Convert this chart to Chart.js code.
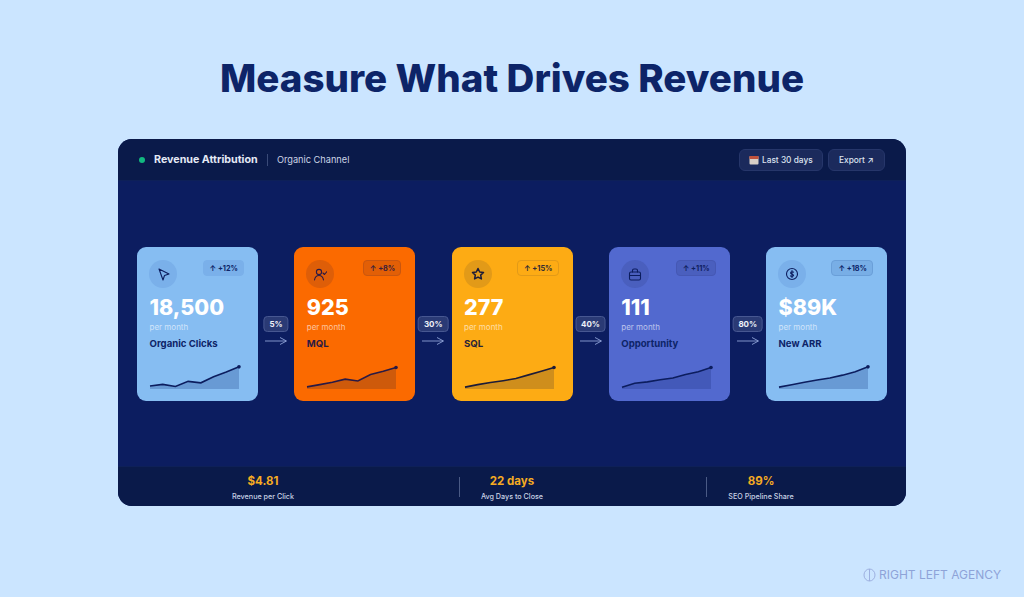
<!DOCTYPE html>
<html>
<head>
<meta charset="utf-8">
<title>Measure What Drives Revenue</title>
<script src="https://cdn.jsdelivr.net/npm/chart.js@4"></script>
<style>
  * { box-sizing: border-box; }
  html, body { margin: 0; width: 1024px; height: 597px; overflow: hidden; background: #cbe5ff; font-family: Inter, "Noto Sans", sans-serif; }
  h1 { position: absolute; left: 0; width: 1024px; top: 53px; margin: 0; text-align: center; font-size: 38.5px; line-height: 50px; font-weight: 800; letter-spacing: 0; color: #0d2468; }
  #panel { position: absolute; left: 118px; top: 139px; width: 788px; height: 367px; border-radius: 14px; background: #0c1d60; overflow: hidden; }
  #head { position: absolute; left: 0; top: 0; width: 100%; height: 42px; background: #0a1a4a; border-bottom: 1px solid #0e2058; }
  #dot { position: absolute; left: 21px; top: 18px; width: 6px; height: 6px; border-radius: 50%; background: #12b981; }
  #headTitle { position: absolute; left: 36px; top: 13px; font-size: 10.7px; line-height: 16px; font-weight: 700; color: #e4e9f5; }
  #headSep { position: absolute; left: 149px; top: 15px; width: 1px; height: 12px; background: #3a4a78; }
  #headSub { position: absolute; left: 159px; top: 13px; font-size: 9.2px; line-height: 16px; color: #ccd4e6; }
  .btn { position: absolute; top: 10px; height: 22px; border-radius: 6px; background: #1b2a5c; border: 1px solid #26366a; color: #dde3f0; font-size: 8.3px; font-weight: 500; line-height: 20px; white-space: nowrap; }
  #btnRange { left: 621px; width: 84px; padding-left: 22px; }
  #btnRange svg { position: absolute; left: 9px; top: 5px; }
  #btnExport { left: 710px; width: 57px; padding-left: 10px; }
  .card { position: absolute; top: 108px; width: 121px; height: 154px; border-radius: 9px; }
  .icon { position: absolute; left: 12px; top: 12.5px; width: 28px; height: 28px; border-radius: 50%; }
  .icon svg { position: absolute; left: 7px; top: 7px; }
  .delta { position: absolute; top: 12.5px; right: 14px; height: 16px; padding: 0 5px 0 6px; border-radius: 4px; font-size: 7.3px; line-height: 15px; font-weight: 700; white-space: nowrap; border: 1px solid transparent; }
  .value { position: absolute; left: 12.5px; top: 46px; font-size: 21.5px; line-height: 28px; font-weight: 800; color: #fff; white-space: nowrap; }
  .per { position: absolute; left: 12.5px; top: 74px; font-size: 8px; line-height: 12px; color: rgba(255,255,255,0.62); }
  .name { position: absolute; left: 12.5px; top: 90px; font-size: 9.6px; line-height: 14px; font-weight: 700; white-space: nowrap; }
  .spark { position: absolute; left: 9px; top: 114px; }
  .rate { position: absolute; top: 177px; height: 16px; transform: translateX(-50%); padding: 0 5px; border-radius: 4px; background: #2a3a75; border: 1px solid #475791; color: #eef1f8; font-size: 8px; font-weight: 700; line-height: 14px; white-space: nowrap; }
  .arrow { position: absolute; top: 197px; }
  .arrow svg { display: block; }
  #foot { position: absolute; left: 0; top: 327px; width: 100%; height: 40px; background: #0a1a4a; border-top: 1px solid #0e2058; }
  .kpi { position: absolute; top: 6px; width: 160px; transform: translateX(-50%); text-align: center; }
  .kpi b { display: block; font-size: 11.5px; line-height: 16px; font-weight: 700; color: #f5ab22; }
  .kpi span { display: block; margin-top: 2px; font-size: 7.2px; line-height: 12px; font-weight: 500; color: #c9d2e4; }
  .kpiSep { position: absolute; top: 10px; width: 1px; height: 20px; background: #4a5a85; }
  #brand { position: absolute; left: 879px; top: 567px; font-size: 12px; line-height: 16px; letter-spacing: 0; color: #8ea3d8; white-space: nowrap; }
  #brandMark { position: absolute; left: 863px; top: 568px; }
</style>
</head>
<body>
<h1>Measure What Drives Revenue</h1>
<div id="panel">
  <div id="head">
    <div id="dot"></div>
    <div id="headTitle">Revenue Attribution</div>
    <div id="headSep"></div>
    <div id="headSub">Organic Channel</div>
    <div class="btn" id="btnRange"><svg width="10" height="10" viewBox="0 0 10 10"><rect x="0.5" y="1" width="9" height="8.5" rx="1" fill="#d8cfc6"/><rect x="0.5" y="1" width="9" height="3" fill="#c0523c"/></svg>Last 30 days</div>
    <div class="btn" id="btnExport">Export ↗</div>
  </div>
  <div id="cards"></div>
  <div id="foot"></div>
</div>
<svg id="brandMark" width="13" height="14" viewBox="0 0 13 14" fill="none" stroke="#9db0e0" stroke-width="1"><ellipse cx="6.5" cy="7" rx="5.5" ry="6"/><path d="M6.5 1v12"/></svg>
<div id="brand">RIGHT LEFT AGENCY</div>

<script>
const stages = ["Organic Clicks", "MQL", "SQL", "Opportunity", "New ARR"];
const totals = ["18,500", "925", "277", "111", "$89K"];
const changes = ["+12%", "+8%", "+15%", "+11%", "+18%"];
const rates = ["5%", "30%", "40%", "80%"];
const periodLabel = "per month";

// sparkline readings, pixels-ish above the baseline of each little chart
const weeks = ["1", "2", "3", "4", "5", "6", "7", "8"];
const clicksTrend = [3.3, 5, 2.7, 8.3, 6.7, 13.3, 18.3, 24];
const mqlTrend = [2.3, 4.7, 7.3, 10.7, 8.7, 15.7, 19.3, 23.3];
const sqlTrend = [2, 4.7, 7, 9, 11.3, 15.3, 19.3, 23.3];
const oppTrend = [2, 6.3, 7.7, 10, 12, 15.7, 18.7, 23.3];
const arrTrend = [2, 4.7, 7.3, 9.7, 12, 15, 18.7, 24];
const trends = [clicksTrend, mqlTrend, sqlTrend, oppTrend, arrTrend];

const kpiValues = ["$4.81", "22 days", "89%"];
const kpiLabels = ["Revenue per Click", "Avg Days to Close", "SEO Pipeline Share"];

// looks for each card
const skins = [
  { bg: "#86bdf2", circle: "#7ab0ea", badge: "#7ab0ea", border: "#7ab0ea", text: "#0d2468", label: "#0d2468", line: "#0c1d5e", fill: "rgba(40,80,150,0.32)" },
  { bg: "#fb6a00", circle: "#de5e08", badge: "#e25f06", border: "#c9560f", text: "#3a1d3a", label: "#2a1a45", line: "#2a1a45", fill: "rgba(90,50,40,0.28)" },
  { bg: "#fdab14", circle: "#e29a18", badge: "#fdab14", border: "#e29a18", text: "#2f2a35", label: "#2a2438", line: "#1c1b38", fill: "rgba(90,70,50,0.28)" },
  { bg: "#5269cf", circle: "#4a5fbe", badge: "#4a5fbe", border: "#4558b4", text: "#10205e", label: "#0d2468", line: "#0c1d5e", fill: "rgba(30,50,130,0.28)" },
  { bg: "#86bdf2", circle: "#7ab0ea", badge: "#78aee6", border: "#6a9fd9", text: "#0d2468", label: "#0d2468", line: "#0c1d5e", fill: "rgba(40,80,150,0.32)" }
];
const icons = [
  '<path d="M3 2l10 5-4.5 1.5L7 13z"/>',
  '<circle cx="6" cy="5" r="2.6"/><path d="M1.5 13c.5-3 2.3-4.5 4.5-4.5s4 1.500 4.500 4.500M10 6l1.500 1.500L14 4.500"/>',
  '<path d="M7 1.500l1.700 3.500 3.800.5-2.800 2.600.7 3.800L7 10.100l-3.400 1.800.7-3.800L1.500 5.500l3.800-.5z" stroke-width="1.500"/>',
  '<rect x="1.500" y="5" width="11" height="8" rx="1.500"/><path d="M4.500 5V3.500a1.500 1.500 0 0 1 1.500-1.500h2a1.500 1.500 0 0 1 1.500 1.500V5M1.500 8.500h11"/>',
  '<circle cx="7" cy="7" r="5.500"/><path d="M7 3.500v7M8.600 5.200C8 4.500 5.600 4.600 5.600 6s3 1 3 2.300-2.500 1.300-3.200.5" />'
];

const cardsEl = document.getElementById("cards");
const step = 157.25, firstLeft = 19, cardW = 121;

stages.forEach((name, i) => {
  const s = skins[i];
  const left = firstLeft + i * step;
  const card = document.createElement("div");
  card.className = "card";
  card.style.left = left + "px";
  card.style.background = s.bg;
  card.innerHTML =
    `<div class="icon" style="background:${s.circle}"><svg width="14" height="14" viewBox="0 0 14 14" fill="none" stroke="${s.line}" stroke-width="1.100" stroke-linejoin="round" stroke-linecap="round">${icons[i]}</svg></div>` +
    `<div class="delta" style="background:${s.badge};border-color:${s.border};color:${s.text}">↑ ${changes[i]}</div>` +
    `<div class="value">${totals[i]}</div>` +
    `<div class="per">${periodLabel}</div>` +
    `<div class="name" style="color:${s.label}">${name}</div>` +
    `<canvas class="spark" width="97" height="32" style="width:97px;height:32px"></canvas>`;
  cardsEl.appendChild(card);

  new Chart(card.querySelector("canvas"), {
    type: "line",
    data: {
      labels: weeks,
      datasets: [{
        data: trends[i],
        borderColor: s.line,
        borderWidth: 1.600,
        backgroundColor: s.fill,
        fill: "origin",
        tension: 0,
        pointRadius: c => c.dataIndex === weeks.length - 1 ? 1.800 : 0,
        pointBackgroundColor: s.line,
        pointBorderWidth: 0
      }]
    },
    options: {
      responsive: false,
      animation: false,
      layout: { padding: 3 },
      plugins: { legend: { display: false }, tooltip: { enabled: false } },
      scales: {
        x: { display: false },
        y: { display: false, min: 0, max: 26 }
      }
    }
  });

  if (i < rates.length) {
    const mid = left + cardW + 18;
    const rate = document.createElement("div");
    rate.className = "rate";
    rate.style.left = mid + "px";
    rate.textContent = rates[i];
    cardsEl.appendChild(rate);
    const arrow = document.createElement("div");
    arrow.className = "arrow";
    arrow.style.left = (mid - 12) + "px";
    arrow.innerHTML = '<svg width="24" height="10" viewBox="0 0 24 10" fill="none" stroke="#8fa2d6" stroke-width="0.900"><path d="M1 5h21M16 1.500L22.500 5 16 8.500"/></svg>';
    cardsEl.appendChild(arrow);
  }
});

// footer stats
const foot = document.getElementById("foot");
const kpiCentres = [145, 394, 643];
const kpiSeps = [341, 588];
kpiValues.forEach((v, i) => {
  const k = document.createElement("div");
  k.className = "kpi";
  k.style.left = kpiCentres[i] + "px";
  k.innerHTML = `<b>${v}</b><span>${kpiLabels[i]}</span>`;
  foot.appendChild(k);
});
kpiSeps.forEach(x => {
  const d = document.createElement("div");
  d.className = "kpiSep";
  d.style.left = x + "px";
  foot.appendChild(d);
});
</script>
</body>
</html>
